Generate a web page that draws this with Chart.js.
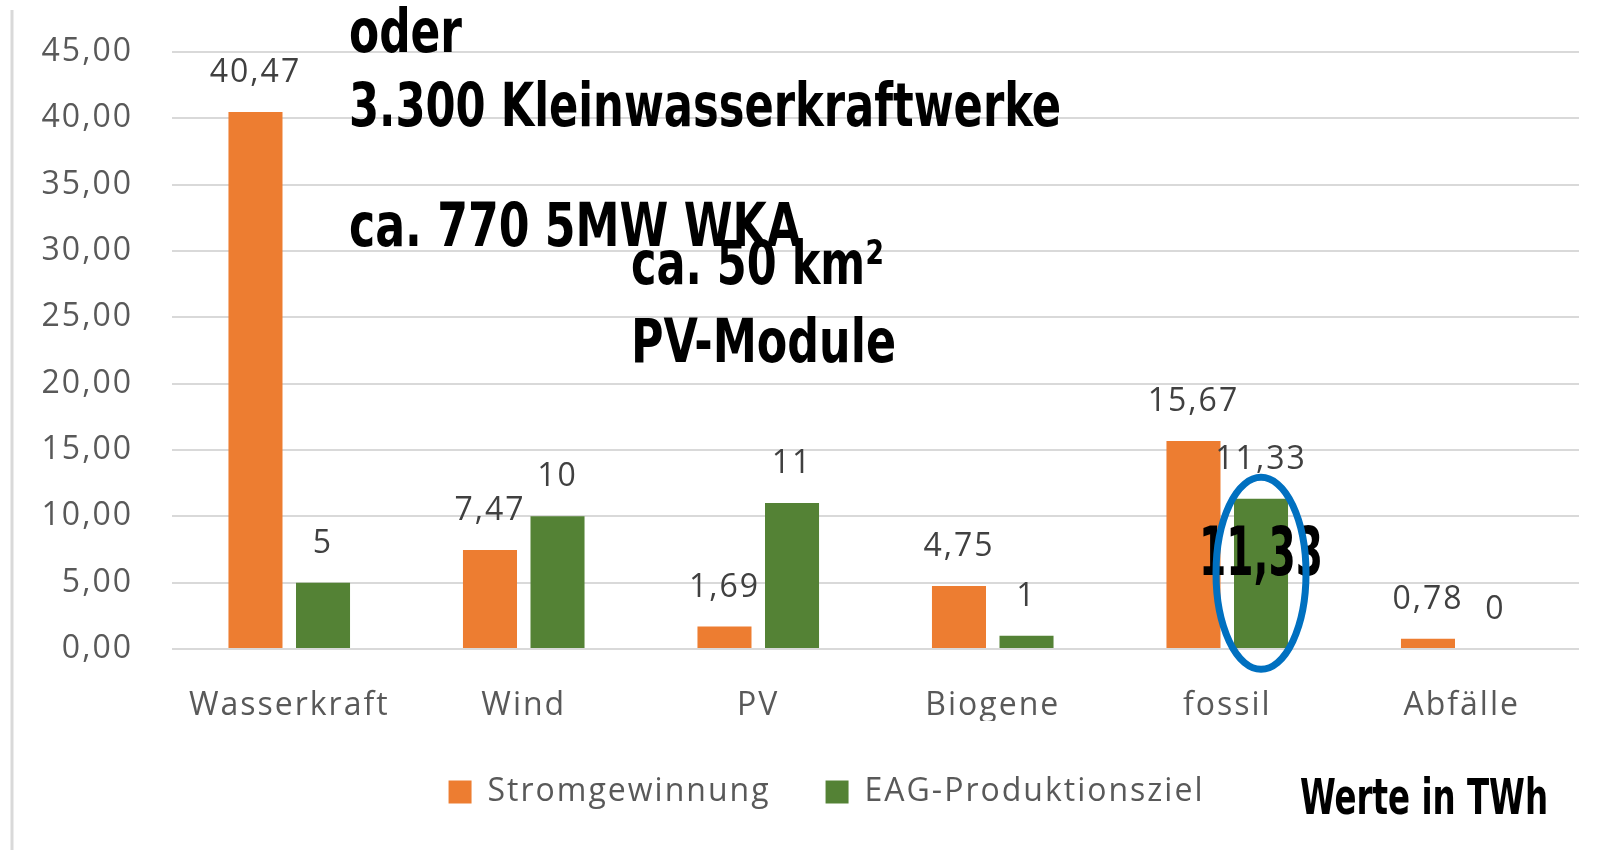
<!DOCTYPE html>
<html lang="de">
<head>
<meta charset="utf-8">
<title>Stromgewinnung und EAG-Produktionsziel</title>
<script src="https://cdn.jsdelivr.net/npm/chart.js@4.4.1/dist/chart.umd.min.js"></script>
<style>
  html, body { margin: 0; padding: 0; background: #ffffff; }
  #wrap { width: 1621px; height: 850px; position: relative; }
</style>
</head>
<body>
<div id="wrap"><canvas id="stromChart"></canvas></div>
<script>
// Daten (Werte in TWh)
const kategorien = ['Wasserkraft', 'Wind', 'PV', 'Biogene', 'fossil', 'Abfälle'];
const stromgewinnung = [40.47, 7.47, 1.69, 4.75, 15.67, 0.78];
const eagProduktionsziel = [5, 10, 11, 1, 11.33, 0];
const serienNamen = ['Stromgewinnung', 'EAG-Produktionsziel'];
const yMin = 0, yMax = 45, yStep = 5;

// Textnotizen im Diagramm
const notizen = [
  { text: 'oder', x: 349, y: 52, w: 113 },
  { text: '3.300 Kleinwasserkraftwerke', x: 349, y: 126, w: 712 },
  { text: 'ca. 770 5MW WKA', x: 349, y: 246, w: 452 },
  { text: 'ca. 50 km²', x: 631, y: 284, w: 253 },
  { text: 'PV-Module', x: 631, y: 362, w: 265 }
];

const ORANGE = '#ED7D31';
const GRUEN = '#548235';
const GRAU_TEXT = '#595959';
const NARROW = "'Liberation Sans Narrow', 'DejaVu Sans Condensed', 'Liberation Sans', sans-serif";

const deZahl = v => String(v).replace('.', ',');

// Text auf eine Zielbreite strecken/stauchen
function textMitBreite(ctx, text, x, y, w) {
  const m = ctx.measureText(text).width;
  const sx = w ? w / m : 1;
  ctx.save();
  ctx.translate(x, y);
  ctx.scale(sx, 1);
  ctx.fillText(text, 0, 0);
  ctx.restore();
}

// etwas gesperrte Schrift wie im Original
function sperren(chart) {
  chart.ctx.letterSpacing = '2px';
}

const notizPlugin = {
  id: 'notizen',
  beforeUpdate: sperren,
  beforeLayout: sperren,
  afterLayout(chart) {
    // Legende etwas nach rechts, wie im Original
    chart.legend.left += 37;
    chart.legend.right += 37;
  },
  beforeDraw(chart) {
    sperren(chart);
    // hellgraue Linie am linken Rand
    const ctx = chart.ctx;
    ctx.save();
    ctx.strokeStyle = '#D9D9D9';
    ctx.lineWidth = 3;
    ctx.beginPath();
    ctx.moveTo(12, 10);
    ctx.lineTo(12, 850);
    ctx.stroke();
    ctx.restore();
  },
  afterDatasetsDraw(chart) {
    // Datenbeschriftungen über den Balken
    const ctx = chart.ctx;
    ctx.save();
    ctx.font = "32px 'Open Sans', sans-serif";
    ctx.fillStyle = '#404040';
    ctx.textAlign = 'center';
    ctx.textBaseline = 'middle';
    chart.data.datasets.forEach((ds, di) => {
      chart.getDatasetMeta(di).data.forEach((bar, i) => {
        const wert = ds.data[i];
        const txt = di === 0 ? wert.toFixed(2).replace('.', ',') : deZahl(wert);
        ctx.fillText(txt, bar.x, bar.y - 39);
      });
    });
    ctx.restore();
  },
  afterDraw(chart) {
    const ctx = chart.ctx;
    ctx.save();
    ctx.letterSpacing = '0px';
    ctx.fillStyle = '#000000';
    ctx.textAlign = 'left';
    ctx.textBaseline = 'alphabetic';
    ctx.font = 'bold 60px ' + NARROW;
    notizen.forEach(n => textMitBreite(ctx, n.text, n.x, n.y, n.w));

    // Hervorhebung fossil / EAG-Ziel
    const bar = chart.getDatasetMeta(1).data[4];
    const mitteY = (bar.y + bar.base) / 2;
    ctx.font = 'bold 68px ' + NARROW;
    textMitBreite(ctx, deZahl(eagProduktionsziel[4]), bar.x - 62, mitteY + 2, 124);

    ctx.strokeStyle = '#0070C0';
    ctx.lineWidth = 7;
    ctx.beginPath();
    ctx.ellipse(bar.x, mitteY, 45, 96, 0, 0, Math.PI * 2);
    ctx.stroke();

    ctx.font = 'bold 50px ' + NARROW;
    textMitBreite(ctx, 'Werte in TWh', 1300, 814, 248);
    ctx.restore();
  }
};

new Chart(document.getElementById('stromChart'), {
  type: 'bar',
  data: {
    labels: kategorien,
    datasets: [
      { label: serienNamen[0], data: stromgewinnung, backgroundColor: ORANGE,
        categoryPercentage: 0.576, barPercentage: 0.8 },
      { label: serienNamen[1], data: eagProduktionsziel, backgroundColor: GRUEN,
        categoryPercentage: 0.576, barPercentage: 0.8 }
    ]
  },
  options: {
    responsive: true,
    maintainAspectRatio: false,
    animation: false,
    layout: { padding: { top: 52, right: 42, left: 0, bottom: 32 } },
    scales: {
      x: {
        grid: { display: false },
        border: { display: false },
        ticks: { color: GRAU_TEXT, font: { size: 32, family: "'Open Sans', sans-serif" }, padding: 30 },
        afterFit(s) { s.height = 72; }
      },
      y: {
        min: yMin,
        max: yMax,
        border: { display: false },
        grid: { color: '#D9D9D9', lineWidth: 2, drawTicks: false },
        ticks: {
          stepSize: yStep,
          padding: 39,
          color: GRAU_TEXT,
          font: { size: 32, family: "'Open Sans', sans-serif" },
          callback: v => v.toFixed(2).replace('.', ',')
        },
        afterFit(s) {
          s.width = 172;
          s.paddingTop = 0;
          s.paddingBottom = 0;
        }
      }
    },
    plugins: {
      legend: {
        position: 'bottom',
        labels: {
          boxWidth: 23,
          boxHeight: 23,
          padding: 55,
          color: GRAU_TEXT,
          font: { size: 32, family: "'Open Sans', sans-serif" }
        }
      },
      tooltip: { enabled: false }
    }
  },
  plugins: [notizPlugin]
});
</script>
</body>
</html>
